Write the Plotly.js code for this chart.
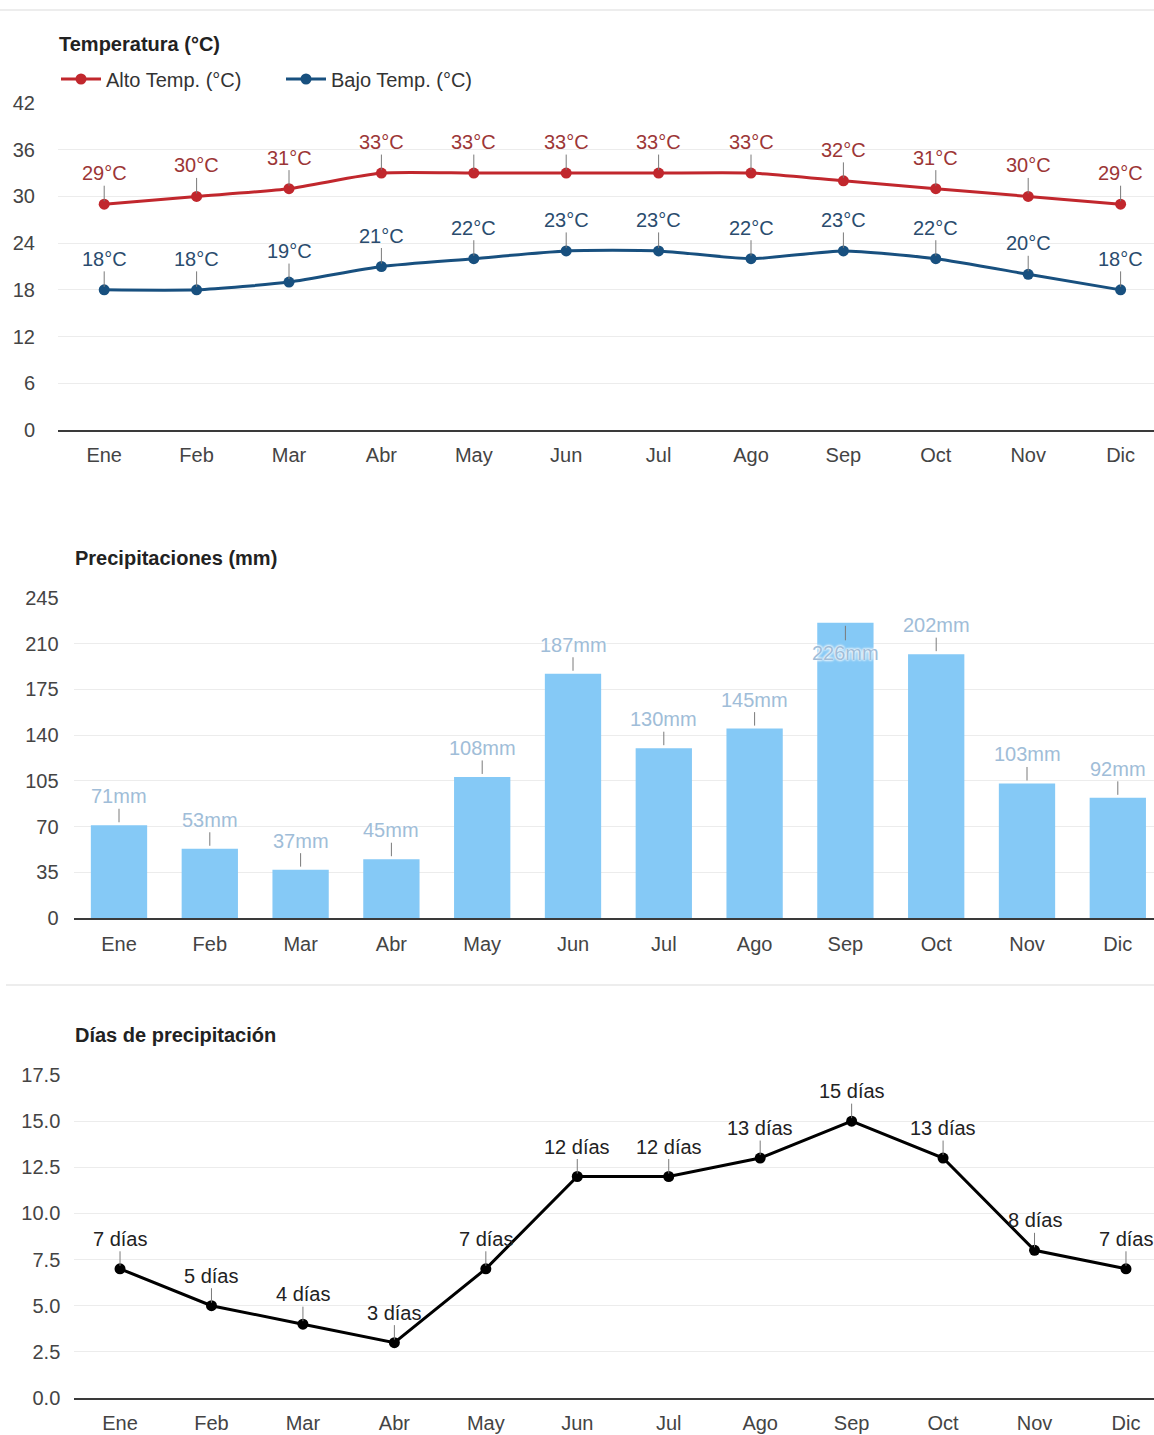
<!DOCTYPE html>
<html>
<head>
<meta charset="utf-8">
<script src="https://cdn.plot.ly/plotly-3.0.1.min.js"></script>
<style>
  html, body { margin: 0; padding: 0; background: #ffffff; }
  #chart { width: 1154px; height: 1435px; }
</style>
</head>
<body>
<div id="chart"></div>
<script>
// Monthly climate data
const months = ['Ene', 'Feb', 'Mar', 'Abr', 'May', 'Jun', 'Jul', 'Ago', 'Sep', 'Oct', 'Nov', 'Dic'];
const tempHigh = [29, 30, 31, 33, 33, 33, 33, 33, 32, 31, 30, 29];
const tempLow = [18, 18, 19, 21, 22, 23, 23, 22, 23, 22, 20, 18];
const rainMm = [71, 53, 37, 45, 108, 187, 130, 145, 226, 202, 103, 92];
const rainDays = [7, 5, 4, 3, 7, 12, 12, 13, 15, 13, 8, 7];

const tempTicks = [0, 6, 12, 18, 24, 30, 36, 42];
const rainTicks = [0, 35, 70, 105, 140, 175, 210, 245];
const dayTicks = [0, 2.5, 5, 7.5, 10, 12.5, 15, 17.5];

const seriesNames = ['Alto Temp. (°C)', 'Bajo Temp. (°C)'];
const panelTitles = ['Temperatura (°C)', 'Precipitaciones (mm)', 'Días de precipitación'];

// Page geometry (pixels -> paper fractions)
const W = 1154, H = 1435;
const fx = px => px / W;
const fy = py => 1 - py / H;

const FONT = '"Liberation Sans", Arial, sans-serif';
const FS = 20;
const RED = '#c1272d';
const BLUE = '#18507f';
const BAR = '#85c9f6';

// Category axis that runs past the right edge of the page
function xAxis(left, step, anchor, ticklen) {
  return {
    domain: [fx(left), 1],
    range: [-0.5, (W - left) / step - 0.5],
    type: 'category',
    anchor: anchor,
    showgrid: false,
    zeroline: false,
    showline: true,
    linecolor: '#3a3a3a',
    linewidth: 2,
    ticks: 'outside',
    ticklen: ticklen,
    tickcolor: 'rgba(0,0,0,0)',
    tickfont: { family: FONT, size: FS, color: '#444' },
    fixedrange: true
  };
}

function yAxis(top, bottom, range, ticks, anchor, ticklen, fmt) {
  return {
    domain: [fy(bottom), fy(top)],
    range: range,
    anchor: anchor,
    tickmode: 'array',
    tickvals: ticks,
    ticktext: ticks.map(v => fmt ? v.toFixed(1) : String(v)),
    showgrid: true,
    gridcolor: '#ececec',
    gridwidth: 1,
    zeroline: false,
    showline: false,
    ticks: 'outside',
    ticklen: ticklen,
    tickcolor: 'rgba(0,0,0,0)',
    tickfont: { family: FONT, size: FS, color: '#444' },
    fixedrange: true
  };
}

const traces = [
  {
    type: 'scatter', mode: 'lines+markers', name: seriesNames[0],
    x: months, y: tempHigh, xaxis: 'x', yaxis: 'y',
    line: { color: RED, width: 3, shape: 'spline', smoothing: 0.6 },
    marker: { color: RED, size: 11 },
    cliponaxis: false, hoverinfo: 'skip'
  },
  {
    type: 'scatter', mode: 'lines+markers', name: seriesNames[1],
    x: months, y: tempLow, xaxis: 'x', yaxis: 'y',
    line: { color: BLUE, width: 3, shape: 'spline', smoothing: 0.6 },
    marker: { color: BLUE, size: 11 },
    cliponaxis: false, hoverinfo: 'skip'
  },
  {
    type: 'bar', name: panelTitles[1], showlegend: false,
    x: months, y: rainMm, xaxis: 'x2', yaxis: 'y2',
    marker: { color: BAR, line: { width: 0 } },
    hoverinfo: 'skip'
  },
  {
    type: 'scatter', mode: 'lines+markers', name: panelTitles[2], showlegend: false,
    x: months, y: rainDays, xaxis: 'x3', yaxis: 'y3',
    line: { color: '#000', width: 3 },
    marker: { color: '#000', size: 11 },
    cliponaxis: false, hoverinfo: 'skip'
  }
];

// Value labels with a short leader line down to each point
function valueLabels(values, suffix, xref, yref, font, offsetFor) {
  return values.map((v, i) => ({
    x: months[i], y: v, xref: xref, yref: yref,
    text: v + suffix,
    showarrow: true, arrowhead: 0, arrowwidth: 1, arrowcolor: '#7a7a7a',
    ax: 0, ay: offsetFor ? offsetFor(v, i) : -31, standoff: 3,
    font: Object.assign({ family: FONT, size: FS }, font)
  }));
}

const annotations = [].concat(
  valueLabels(tempHigh, '°C', 'x', 'y', { color: '#9c3636' }),
  valueLabels(tempLow, '°C', 'x', 'y', { color: '#2a4c6e' }),
  // the tallest bar carries its label inside, below the top edge
  valueLabels(rainMm, 'mm', 'x2', 'y2',
    { color: '#a0bdd8', shadow: '0 0 3px #fff, 0 0 3px #fff, 0 0 2px #fff' },
    v => v === Math.max(...rainMm) ? 30 : -29),
  valueLabels(rainDays, ' días', 'x3', 'y3', { color: '#222' }, () => -30),
  [
    { text: '<b>' + panelTitles[0] + '</b>', x: fx(57), y: fy(44) },
    { text: '<b>' + panelTitles[1] + '</b>', x: fx(73), y: fy(558) },
    { text: '<b>' + panelTitles[2] + '</b>', x: fx(73), y: fy(1035) }
  ].map(a => Object.assign(a, {
    xref: 'paper', yref: 'paper', xanchor: 'left', yanchor: 'middle',
    showarrow: false, font: { family: FONT, size: FS, color: '#222' }
  }))
);

const layout = {
  width: W, height: H,
  margin: { l: 0, r: 0, t: 0, b: 0, pad: 0 },
  paper_bgcolor: '#ffffff',
  plot_bgcolor: '#ffffff',
  font: { family: FONT, size: FS, color: '#333' },
  showlegend: true,
  legend: {
    orientation: 'h', x: fx(56), y: fy(79), xanchor: 'left', yanchor: 'middle',
    font: { family: FONT, size: FS, color: '#333' },
    itemwidth: 40, entrywidth: 170, entrywidthmode: 'pixels',
    bgcolor: 'rgba(0,0,0,0)', borderwidth: 0,
    itemclick: false, itemdoubleclick: false
  },
  bargap: 0.38,
  xaxis: xAxis(58, 92.4, 'y', 6),
  yaxis: yAxis(103, 430, [0, 42], tempTicks, 'x', 18, false),
  xaxis2: xAxis(73.6, 90.8, 'y2', 7),
  yaxis2: yAxis(598, 918, [0, 245], rainTicks, 'x2', 10, false),
  xaxis3: xAxis(74.3, 91.45, 'y3', 6),
  yaxis3: yAxis(1075, 1398, [0, 17.5], dayTicks, 'x3', 9, true),
  annotations: annotations,
  shapes: [
    { type: 'line', xref: 'paper', yref: 'paper', x0: 0, x1: 1, y0: fy(10), y1: fy(10),
      line: { color: '#ededed', width: 2 } },
    { type: 'line', xref: 'paper', yref: 'paper', x0: fx(6), x1: 1, y0: fy(985), y1: fy(985),
      line: { color: '#ededed', width: 2 } }
  ]
};

Plotly.newPlot('chart', traces, layout, { displayModeBar: false, staticPlot: true });
</script>
</body>
</html>
